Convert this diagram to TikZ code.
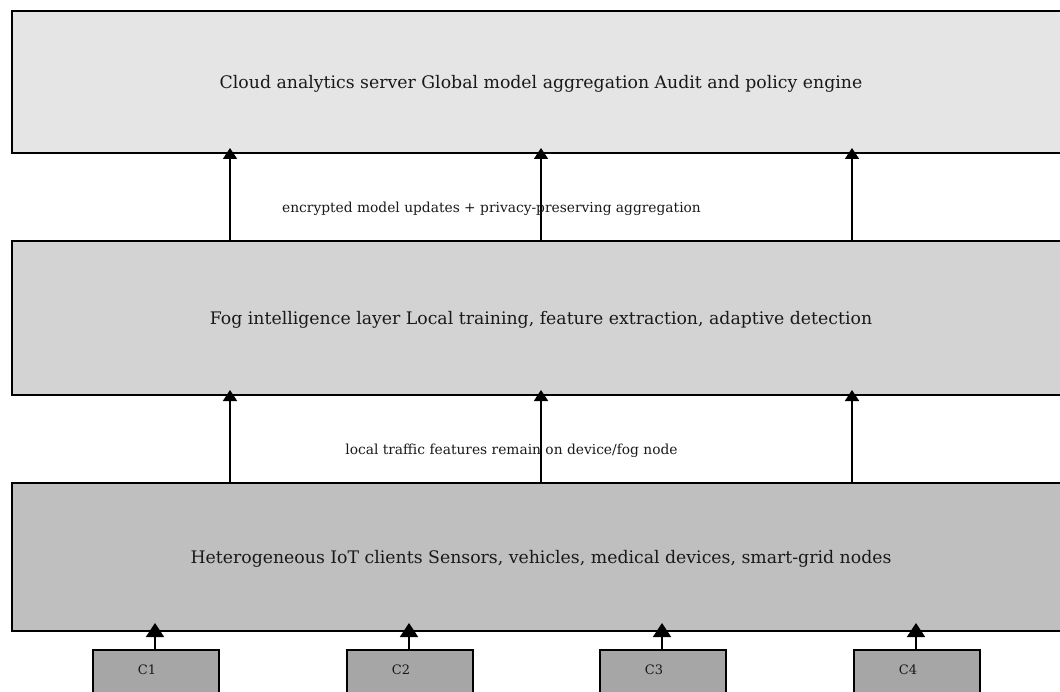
\documentclass[tikz,border=0pt]{standalone}
\usepackage{fontspec}
\setmainfont{DejaVu Serif}
\usetikzlibrary{arrows.meta}
\definecolor{cloudc}{HTML}{E5E5E5}
\definecolor{fogc}{HTML}{D3D3D3}
\definecolor{iotc}{HTML}{BFBFBF}
\definecolor{clic}{HTML}{A6A6A6}
\tikzset{
  layer/.style={draw=black, line width=1.8pt, minimum width=1060pt, inner sep=0pt, anchor=north west},
  layertext/.style={font=\fontsize{17.3}{20}\selectfont, text=black!90, inner sep=0pt},
  client/.style={draw=black, line width=1.5pt, fill=clic, minimum width=126pt, minimum height=60pt, inner sep=0pt, anchor=north west},
  clitext/.style={font=\fontsize{13}{15}\selectfont, text=black!90, inner sep=0pt},
  uparrow/.style={line width=1.8pt, shorten >=-4pt, -{Triangle[width=14pt,length=11pt]}},
  cliarrow/.style={line width=1.8pt, shorten >=-7pt, -{Triangle[width=18pt,length=14pt]}},
  flowlabel/.style={font=\fontsize{13.8}{16}\selectfont, text=black!90, inner sep=0pt}
}
\begin{document}
\begin{tikzpicture}[x=1pt,y=-1pt]
\useasboundingbox (0,0) rectangle (1060,692);
\clip (0,0) rectangle (1060,692);
\node[layer, fill=cloudc, minimum height=142pt] (cloud) at (11,10) {};
\node[layer, fill=fogc, minimum height=154pt] (fog) at (11,240) {};
\node[layer, fill=iotc, minimum height=148pt] (iot) at (11,482) {};
\node[layertext] (cloudt) at (541,84) {Cloud analytics server Global model aggregation Audit and policy engine};
\node[layertext] (fogt) at (541,320) {Fog intelligence layer Local training, feature extraction, adaptive detection};
\node[layertext] (iott) at (541,559) {Heterogeneous IoT clients Sensors, vehicles, medical devices, smart-grid nodes};
\foreach \x/\n in {92/1,346/2,599/3,853/4}{
  \node[client] (c\n) at (\x,649) {};
  \node[clitext] (c\n t) at (\x+55,669.5) {C\n};
}
\foreach \x in {230,541,852}{
  \coordinate (fa\x) at (\x,240);
  \coordinate (cb\x) at (\x,152);
  \draw[uparrow] (fa\x) -- (cb\x);
  \coordinate (ia\x) at (\x,482);
  \coordinate (fb\x) at (\x,394);
  \draw[uparrow] (ia\x) -- (fb\x);
}
\foreach \n in {1,2,3,4}{
  \draw[cliarrow] (c\n.north west) ++(63,0) coordinate (s\n) -- ++(0,-19) coordinate (e\n);
}
\node[flowlabel] (lab1) at (491.5,209) {encrypted model updates + privacy-preserving aggregation};
\node[flowlabel] (lab2) at (511.5,451) {local traffic features remain on device/fog node};
\end{tikzpicture}
\end{document}
